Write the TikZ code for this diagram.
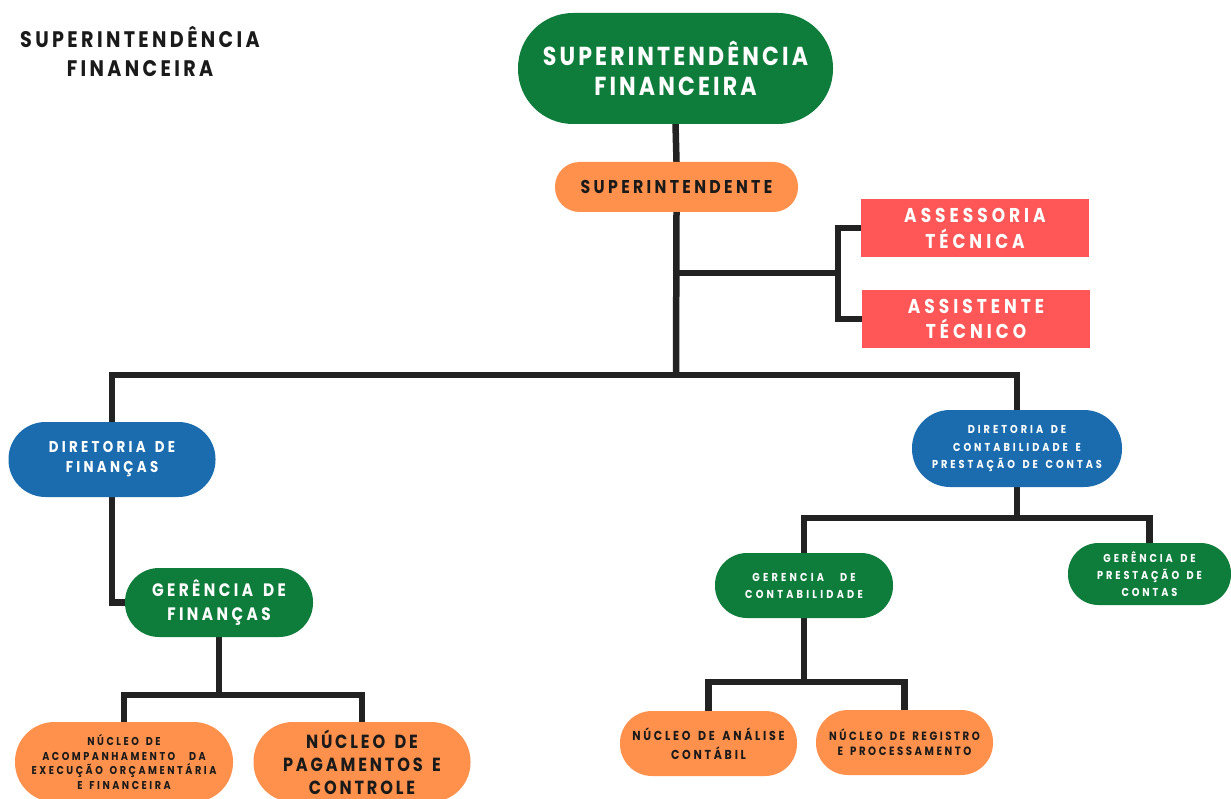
\documentclass[tikz,border=0pt]{standalone}
\usepackage{fontspec}
\newfontfamily\labelfont{Poppins}[FakeStretch=0.85, WordSpace=1.5]
\usetikzlibrary{backgrounds}

\definecolor{cgreen}{RGB}{14,124,58}
\definecolor{cblue}{RGB}{26,108,174}
\definecolor{corange}{RGB}{255,145,77}
\definecolor{cred}{RGB}{255,87,87}
\definecolor{cline}{RGB}{34,34,34}
\definecolor{cdark}{RGB}{26,26,26}

% size, baseline skip, letter spacing
\newcommand{\fs}[3]{\labelfont\bfseries\addfontfeatures{LetterSpace=#3}\fontsize{#1}{#2}\selectfont}

\tikzset{
  base/.style={align=center, inner sep=0pt, outer sep=0pt},
  pill/.style={base, rounded corners=#1},
  greenpill/.style={pill=#1, fill=cgreen, text=white},
  bluepill/.style={pill=#1, fill=cblue, text=white},
  orangepill/.style={pill=#1, fill=corange, text=cdark},
  redbox/.style={base, fill=cred, text=white},
  link/.style={draw=cline, line width=6.5pt, line join=miter},
}

\begin{document}
\begin{tikzpicture}[x=1pt, y=-1pt]
  \useasboundingbox (0,0) rectangle (1231,799);
  \clip (0,0) rectangle (1231,799);

  % heading in the corner
  \node[base, text=cdark, font=\fs{22.5}{29}{15}] (title) at (140,51)
    {SUPERINTENDÊNCIA\\FINANCEIRA};

  % top of the hierarchy
  \node[greenpill=55, minimum width=315, minimum height=111, font=\fs{26}{30}{12}]
    (sf) at (675.5,68.5) {SUPERINTENDÊNCIA\\FINANCEIRA};
  \node[orangepill=24.5, minimum width=243, minimum height=50, font=\fs{18.5}{22}{18}]
    (sup) at (676.5,187) {SUPERINTENDENTE};

  % advisory staff
  \node[redbox, minimum width=228, minimum height=58, font=\fs{20}{26}{20}]
    (ass) at (975,228) {ASSESSORIA\\TÉCNICA};
  \node[redbox, minimum width=228, minimum height=58, font=\fs{20}{25}{20}]
    (ast) at (976,319) {ASSISTENTE\\TÉCNICO};

  % directorates
  \node[bluepill=37, minimum width=207, minimum height=75, font=\fs{15.7}{20}{21}]
    (dirfin) at (112,459.5) {DIRETORIA DE\\FINANÇAS};
  \node[bluepill=38, minimum width=210, minimum height=77, font=\fs{11.5}{17.5}{26}]
    (dircont) at (1017,448.5) {DIRETORIA DE\\CONTABILIDADE E\\PRESTAÇÃO DE CONTAS};

  % managements
  \node[greenpill=34, minimum width=188, minimum height=69, font=\fs{18}{24}{19}]
    (gerfin) at (219,602.5) {GERÊNCIA DE\\FINANÇAS};
  \node[greenpill=32, minimum width=178, minimum height=65, font=\fs{11.5}{17}{28}]
    (gercont) at (804,585.5) {GERENCIA\ \ DE\\CONTABILIDADE};
  \node[greenpill=30.5, minimum width=163, minimum height=62, font=\fs{11.5}{17}{25}]
    (gerprest) at (1149.5,574) {GERÊNCIA DE\\PRESTAÇÃO DE\\CONTAS};

  % units
  \node[orangepill=39.5, minimum width=218, minimum height=80, font=\fs{11.4}{14.7}{22}]
    (nac) at (124,762) {NÚCLEO DE\\ACOMPANHAMENTO\ \ DA\\EXECUÇÃO ORÇAMENTÁRIA\\E FINANCEIRA};
  \node[orangepill=39.5, minimum width=217, minimum height=80, font=\fs{19}{23}{15}]
    (npc) at (362,762) {NÚCLEO DE\\PAGAMENTOS E\\CONTROLE};
  \node[orangepill=32, minimum width=177, minimum height=65, font=\fs{13}{19}{21}]
    (nan) at (708.5,743.5) {NÚCLEO DE ANÁLISE\\CONTÁBIL};
  \node[orangepill=32, minimum width=177, minimum height=65, font=\fs{12}{15}{21}]
    (nreg) at (904.5,742.5) {NÚCLEO DE REGISTRO\\E PROCESSAMENTO};

  % junction points of the tree
  \coordinate (jstaff) at (676,273);
  \coordinate (kstaff) at (838,273);
  \coordinate (jmain) at (676,375);
  \coordinate (jfin) at (216,695);
  \coordinate (jcont) at (1017,518);
  \coordinate (jnuc) at (804,682);

  \begin{scope}[on background layer]
    \fill[white] (0,0) rectangle (1231,799);
    \draw[link] (sf.south) -- (sup.north);
    \draw[link] (sup.south) -- (jmain);
    \draw[link] (jstaff) -- (kstaff);
    \draw[link] (ass.west) -| (kstaff) |- (ast.west);
    \draw[link] (dirfin.north) |- (jmain) -| (dircont.north);
    \draw[link] (dirfin.south) |- (gerfin.west);
    \draw[link] (gerfin.south) |- (jfin);
    \draw[link] (nac.north) |- (jfin) -| (npc.north);
    \draw[link] (dircont.south) -- (jcont);
    \draw[link] (gercont.north) |- (jcont) -| (gerprest.north);
    \draw[link] (gercont.south) -- (jnuc);
    \draw[link] (nan.north) |- (jnuc) -| (nreg.north);
  \end{scope}
\end{tikzpicture}
\end{document}
